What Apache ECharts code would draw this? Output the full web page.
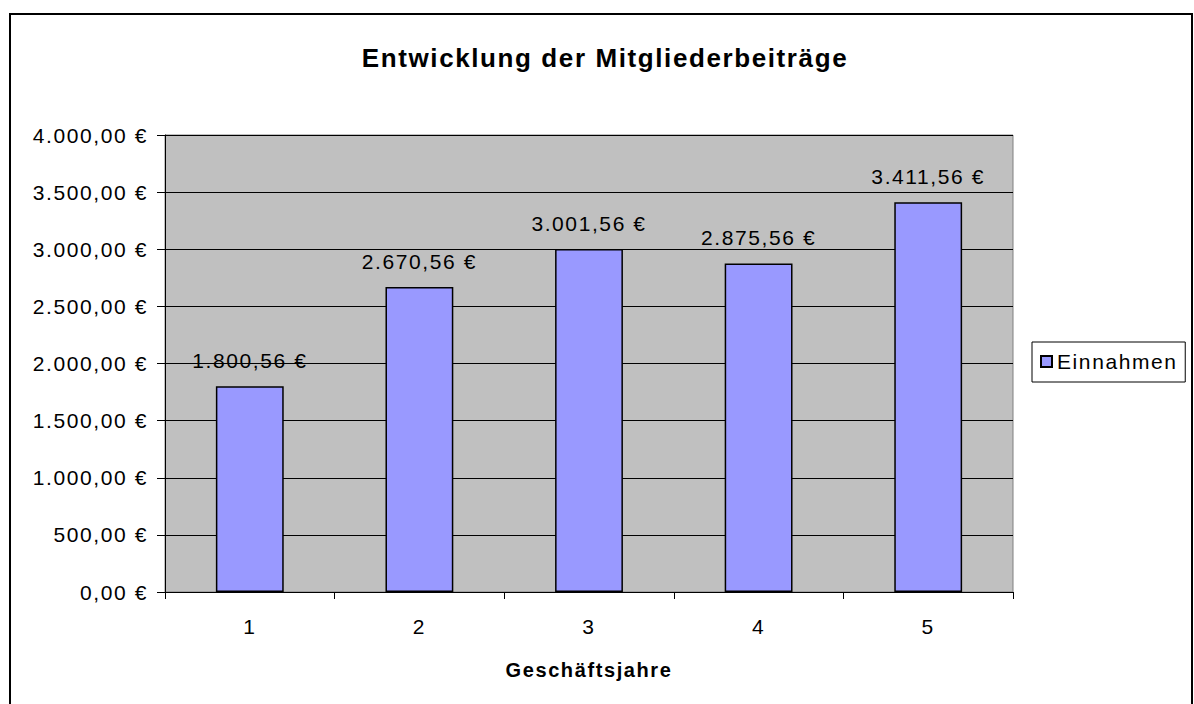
<!DOCTYPE html>
<html>
<head>
<meta charset="utf-8">
<title>Entwicklung der Mitgliederbeiträge</title>
<script src="https://cdn.jsdelivr.net/npm/echarts@6/dist/echarts.min.js"></script>
<style>
  html, body { margin: 0; padding: 0; background: #fff; }
  #chart { width: 1194px; height: 704px; }
  /* Excel-Schrift wirkt etwas gesperrt */
  #chart text { letter-spacing: 1.6px; }
</style>
</head>
<body>
<div id="chart"></div>
<script>
// Daten
var jahre = ['1', '2', '3', '4', '5'];
var einnahmen = [1800.56, 2670.56, 3001.56, 2875.56, 3411.56];
var serienName = 'Einnahmen';

function euro(v) {
    var parts = v.toFixed(2).split('.');
    var ganz = parts[0].replace(/\B(?=(\d{3})+(?!\d))/g, '.');
    return ganz + ',' + parts[1] + ' €';
}

var chart = echarts.init(document.getElementById('chart'), null, { renderer: 'svg' });
var option = {
    animation: false,
    textStyle: { fontFamily: 'Liberation Sans, Arial, sans-serif', color: '#000' },
    title: {
        text: 'Entwicklung der Mitgliederbeiträge',
        left: 600, top: 40, textAlign: 'center',
        textStyle: { fontSize: 26, fontWeight: 'bold', color: '#000' }
    },
    graphic: [{
        type: 'rect',
        shape: { x: 10, y: 14, width: 1182, height: 700 },
        style: { fill: 'none', stroke: '#000', lineWidth: 2 },
        silent: true
    }],
    legend: {
        data: [serienName],
        left: 1032, top: 342,
        orient: 'vertical',
        borderColor: '#000', borderWidth: 1,
        padding: [9, 22, 10, 8],
        itemWidth: 11, itemHeight: 11, itemGap: 0,
        icon: 'rect',
        textStyle: { fontSize: 21, color: '#000' }
    },
    grid: {
        left: 165, right: 181, top: 135, bottom: 112,
        show: true, backgroundColor: '#C0C0C0', borderColor: '#808080', borderWidth: 1
    },
    xAxis: {
        type: 'category',
        data: jahre,
        name: 'Geschäftsjahre',
        nameLocation: 'middle',
        nameGap: 68,
        nameTextStyle: { fontSize: 20, fontWeight: 'bold', color: '#000' },
        axisLine: { lineStyle: { color: '#000', width: 1 } },
        axisTick: { show: true, length: 7, lineStyle: { color: '#000' } },
        axisLabel: { fontSize: 21, color: '#000', margin: 24 }
    },
    yAxis: {
        type: 'value',
        min: 0, max: 4000, interval: 500,
        axisLine: { show: true, lineStyle: { color: '#000', width: 1 } },
        axisTick: { show: true, length: 8, lineStyle: { color: '#000' } },
        axisLabel: { fontSize: 21, color: '#000', margin: 17, formatter: euro },
        splitLine: { lineStyle: { color: '#000', width: 1 } }
    },
    series: [{
        name: serienName,
        type: 'bar',
        data: einnahmen,
        barWidth: '40%',
        itemStyle: { color: '#9999FF', borderColor: '#000', borderWidth: 1.5 },
        label: {
            show: true, position: 'top', distance: 15,
            fontSize: 21, color: '#000',
            formatter: function (p) { return euro(p.value); }
        }
    }]
};
chart.setOption(option);
</script>
</body>
</html>
